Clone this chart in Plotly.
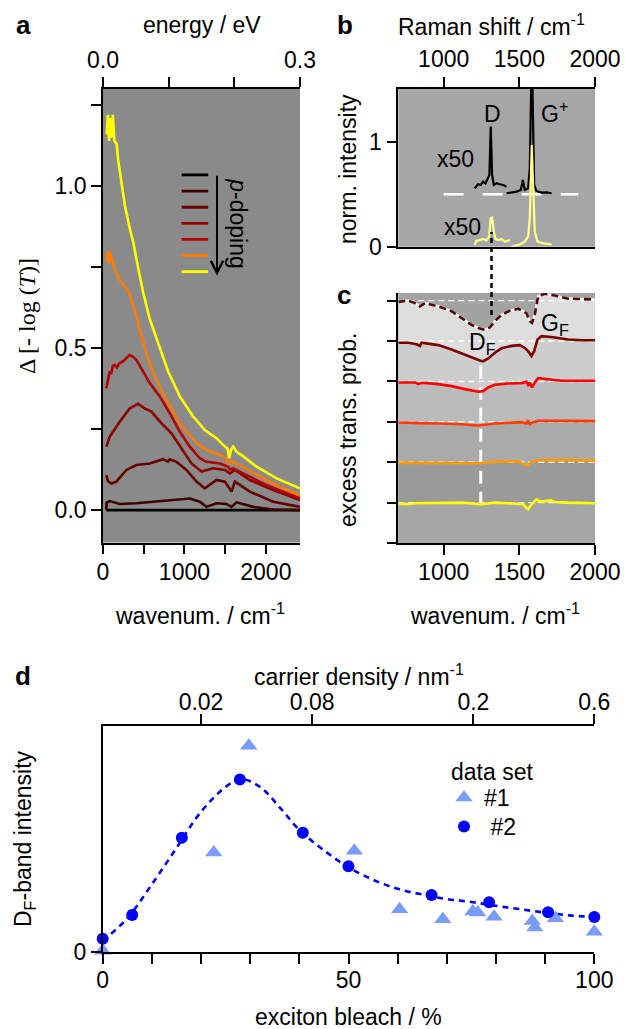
import plotly.graph_objects as go

W, H = 638, 1029
FONT = "Liberation Sans"
FS = 23

# ---------------- panel a data (wavenumber cm^-1, Delta[-log T]) ----------------
a_black_x = [41, 2419]
a_black_y = [0.0, 0.0]
a_c1_x = [41, 45, 82, 205, 410, 615, 861, 1066, 1189, 1271, 1394, 1517, 1579, 1640, 1845, 2091, 2419]
a_c1_y = [0.0, 0.023, 0.028, 0.019, 0.021, 0.026, 0.031, 0.036, 0.026, 0.010, 0.021, 0.019, 0.010, 0.024, 0.010, 0.002, 0.0]
a_c2_x = [41, 60, 103, 164, 287, 410, 574, 738, 800, 820, 902, 1025, 1148, 1250, 1394, 1497, 1579, 1620, 1804, 2091, 2419]
a_c2_y = [0.108, 0.090, 0.082, 0.088, 0.124, 0.139, 0.144, 0.157, 0.150, 0.157, 0.149, 0.124, 0.088, 0.067, 0.093, 0.088, 0.057, 0.088, 0.057, 0.026, 0.010]
a_c3_x = [41, 80, 123, 205, 328, 430, 512, 595, 718, 841, 963, 1087, 1210, 1353, 1497, 1558, 1620, 1804, 2091, 2419]
a_c3_y = [0.196, 0.225, 0.242, 0.273, 0.314, 0.328, 0.314, 0.304, 0.268, 0.237, 0.191, 0.144, 0.119, 0.129, 0.124, 0.113, 0.124, 0.093, 0.062, 0.031]
a_c4_x = [41, 60, 82, 100, 120, 144, 170, 205, 250, 290, 328, 360, 410, 492, 574, 697, 820, 943, 1066, 1189, 1271, 1435, 1538, 1560, 1599, 1763, 2009, 2419]
a_c4_y = [0.376, 0.400, 0.428, 0.420, 0.445, 0.448, 0.440, 0.454, 0.460, 0.470, 0.479, 0.475, 0.464, 0.428, 0.392, 0.351, 0.299, 0.242, 0.196, 0.160, 0.149, 0.144, 0.134, 0.125, 0.129, 0.108, 0.077, 0.036]
a_c5_x = [45, 60, 75, 86, 100, 120, 147, 209, 270, 331, 349, 413, 451, 533, 636, 779, 943, 1148, 1271, 1435, 1510, 1538, 1560, 1580, 1681, 1927, 2173, 2419]
a_c5_y = [0.770, 0.800, 0.760, 0.796, 0.780, 0.770, 0.740, 0.709, 0.690, 0.668, 0.649, 0.600, 0.557, 0.485, 0.412, 0.340, 0.268, 0.206, 0.186, 0.170, 0.160, 0.144, 0.150, 0.149, 0.139, 0.103, 0.072, 0.046]
a_c6_x = [45, 60, 75, 90, 105, 120, 140, 168, 188, 229, 270, 331, 372, 434, 495, 574, 677, 800, 943, 1107, 1250, 1394, 1497, 1530, 1550, 1570, 1599, 1640, 1701, 1886, 2132, 2419]
a_c6_y = [1.160, 1.220, 1.140, 1.210, 1.150, 1.220, 1.140, 1.130, 1.077, 1.000, 0.939, 0.867, 0.827, 0.745, 0.670, 0.590, 0.515, 0.428, 0.351, 0.289, 0.247, 0.222, 0.196, 0.190, 0.160, 0.185, 0.196, 0.180, 0.170, 0.134, 0.098, 0.067]
a_colors = ["#000000", "#3c0000", "#650000", "#8c0000", "#b30000", "#ff7a00", "#ffff00"]
a_xticks = [0, 1000, 2000]
a_xminor = [500, 1500]
a_yticks = [0, 0.5, 1.0]
a_ytext = ["0.0", "0.5", "1.0"]
a_yminor = [0.25, 0.75, 1.25]
a_eticks = [0.0, 0.3]
a_etext = ["0.0", "0.3"]
a_eminor = [0.1, 0.2]
a_legend_y = [1.035, 0.985, 0.935, 0.885, 0.836, 0.786, 0.736]
a_legend_x = [966, 1292]
a_arrow_x = 1400
a_arrow_y = [1.037, 0.724]

# ---------------- panel b data (Raman shift, norm. intensity) ----------------
b_blackD_x = [1205, 1227, 1245, 1260, 1276, 1289, 1302, 1311, 1320, 1331, 1349, 1371, 1393, 1415]
b_blackD_y = [0.556, 0.594, 0.587, 0.619, 0.603, 0.644, 0.683, 1.143, 0.683, 0.587, 0.603, 0.594, 0.587, 0.571]
b_blackG_x = [1415, 1448, 1481, 1510, 1523, 1536, 1558, 1569, 1578, 1587, 1598, 1613, 1646, 1680, 1713]
b_blackG_y = [0.508, 0.517, 0.524, 0.540, 0.635, 0.540, 0.556, 0.746, 1.500, 1.500, 0.587, 0.530, 0.514, 0.517, 0.508]
b_yelD_x = [1205, 1215, 1237, 1260, 1282, 1300, 1311, 1320, 1331, 1342, 1360, 1382, 1404, 1437]
b_yelD_y = [0.016, 0.054, 0.063, 0.073, 0.060, 0.095, 0.270, 0.276, 0.143, 0.073, 0.063, 0.073, 0.048, 0.063]
b_yelG_x = [1448, 1481, 1503, 1536, 1558, 1569, 1576, 1582, 1591, 1602, 1620, 1657, 1713]
b_yelG_y = [0.000, 0.010, 0.022, 0.048, 0.095, 0.270, 0.746, 0.968, 0.587, 0.143, 0.048, 0.032, 0.022]
b_ref_x = [1000, 1890]
b_ref_y = [0.5, 0.5]
b_xticks = [1000, 1500, 2000]
D_RAMAN_X = 1316

# ---------------- panel c data (wavenumber, offset excess transition prob.) ----------------
c1_x = [700, 766, 810, 964, 1118, 1250, 1338, 1426, 1525, 1558, 1580, 1613, 1646, 1712, 1734, 1822, 2000]
c1_y = [-0.025, -0.041, -0.017, -0.008, 0.0, -0.041, 0.0, -0.017, -0.041, -0.165, -0.041, 0.074, 0.025, 0.058, 0.017, 0.0, -0.017]
c2_x = [700, 810, 964, 1228, 1338, 1492, 1525, 1554, 1580, 1624, 1778, 2000]
c2_y = [-0.017, -0.017, -0.008, -0.025, 0.008, 0.025, -0.033, -0.083, 0.008, 0.050, 0.058, 0.033]
c3_x = [700, 810, 843, 964, 1118, 1228, 1261, 1338, 1514, 1547, 1558, 1569, 1591, 1624, 1778, 2000]
c3_y = [-0.017, -0.017, -0.033, -0.041, -0.058, -0.091, -0.074, -0.041, -0.008, -0.041, 0.041, -0.058, -0.008, 0.025, 0.025, 0.017]
c4_x = [700, 810, 832, 854, 964, 1052, 1140, 1228, 1261, 1294, 1338, 1426, 1514, 1547, 1558, 1569, 1584, 1602, 1624, 1668, 1778, 2000]
c4_y = [-0.025, -0.025, -0.066, -0.033, -0.066, -0.116, -0.190, -0.256, -0.240, -0.149, -0.083, -0.050, -0.041, -0.008, -0.083, -0.025, -0.149, -0.025, 0.083, 0.066, 0.017, 0.017]
c5_x = [700, 766, 821, 843, 854, 964, 1052, 1118, 1184, 1239, 1261, 1294, 1338, 1382, 1448, 1503, 1536, 1558, 1580, 1598, 1620, 1646, 1712, 1822, 1910, 2000]
c5_y = [-0.04, -0.04, -0.08, -0.12, -0.04, -0.10, -0.21, -0.31, -0.41, -0.48, -0.50, -0.43, -0.29, -0.18, -0.12, -0.10, -0.17, -0.25, -0.37, -0.25, 0.04, 0.12, 0.10, 0.04, 0.02, 0.02]
c6_x = [700, 766, 810, 843, 876, 964, 1052, 1118, 1184, 1239, 1272, 1305, 1338, 1382, 1437, 1492, 1525, 1547, 1569, 1584, 1602, 1624, 1668, 1734, 1822, 1910, 2000]
c6_y = [-0.03, 0.0, -0.06, -0.14, -0.06, -0.14, -0.26, -0.43, -0.60, -0.69, -0.72, -0.66, -0.51, -0.35, -0.25, -0.20, -0.26, -0.31, -0.51, -0.55, -0.35, 0.11, 0.17, 0.13, 0.05, 0.04, 0.03]
c_offsets = [1, 2, 3, 4, 5, 6]
c_colors = ["#ffff00", "#ff9900", "#ff3a00", "#ff0000", "#7f0000", "#4a0c0c"]
c_fills = ["#a6a6a6", "#9a9a9a", "#aaaaaa", "#bbbbbb", "#cdcdcd", "#dddddd"]
c_yticks = [0, 1, 2, 3, 4, 5, 6]
c_xticks = [1000, 1500, 2000]
DF_LINE_X = 1245
DF_LINE_Y = [0.95, 4.47]

# ---------------- panel d data (exciton bleach %, D_F band intensity) ----------------
d1_x = [0, 22.6, 29.7, 51.2, 60.4, 69.2, 75.3, 76.3, 79.6, 87.4, 87.9, 92.1, 100]
d1_y = [0.007, 0.440, 0.912, 0.448, 0.190, 0.146, 0.180, 0.176, 0.157, 0.138, 0.109, 0.150, 0.091]
d2_x = [0, 6.0, 16.1, 27.9, 40.7, 50.0, 66.9, 78.6, 90.6, 100]
d2_y = [0.060, 0.165, 0.506, 0.763, 0.528, 0.380, 0.253, 0.221, 0.177, 0.156]
dfit_x = [0, 5, 10, 15, 20, 25, 28, 32, 36, 40, 45, 50, 55, 60, 65, 70, 75, 80, 85, 90, 95, 100]
dfit_y = [0.05, 0.15, 0.30, 0.46, 0.62, 0.73, 0.765, 0.73, 0.64, 0.54, 0.45, 0.375, 0.32, 0.28, 0.255, 0.235, 0.222, 0.205, 0.19, 0.175, 0.163, 0.155]
d_xticks = [0, 50, 100]
d_xminor = [10, 20, 30, 40, 60, 70, 80, 90]
d_top_pos = [20.0, 42.6, 75.4, 100.0]
d_top_text = ["0.02", "0.08", "0.2", "0.6"]


def fx(px):
    return px / W


def fy(py):
    return 1 - py / H


fig = go.Figure()
nolg = dict(showlegend=False, hoverinfo="skip")

# panel a
a_xs = [a_black_x, a_c1_x, a_c2_x, a_c3_x, a_c4_x, a_c5_x, a_c6_x]
a_ys = [a_black_y, a_c1_y, a_c2_y, a_c3_y, a_c4_y, a_c5_y, a_c6_y]
for xs, ys, col in zip(a_xs, a_ys, a_colors):
    fig.add_trace(go.Scatter(x=xs, y=ys, mode="lines", line=dict(color=col, width=2.6),
                             xaxis="x", yaxis="y", **nolg))
for ly, col in zip(a_legend_y, a_colors):
    fig.add_trace(go.Scatter(x=a_legend_x, y=[ly, ly], mode="lines", line=dict(color=col, width=2.8),
                             xaxis="x", yaxis="y", **nolg))
fig.add_trace(go.Scatter(x=[a_eticks[0], a_eticks[-1]], y=[None, None], mode="lines",
                         xaxis="x2", yaxis="y", **nolg))

# panel b
fig.add_trace(go.Scatter(x=b_ref_x, y=b_ref_y, mode="lines", line=dict(color="white", width=2.5, dash="20px,19px"),
                         xaxis="x3", yaxis="y3", **nolg))
for xs, ys, col in [(b_blackD_x, b_blackD_y, "black"), (b_blackG_x, b_blackG_y, "black"),
                    (b_yelD_x, b_yelD_y, "#ffff8c"), (b_yelG_x, b_yelG_y, "#ffff8c")]:
    fig.add_trace(go.Scatter(x=xs, y=ys, mode="lines", line=dict(color=col, width=2.2),
                             xaxis="x3", yaxis="y3", **nolg))

# panel c fills
c_xs = [c1_x, c2_x, c3_x, c4_x, c5_x, c6_x]
c_ys = [c1_y, c2_y, c3_y, c4_y, c5_y, c6_y]
for i, (xs, ys, off, fc) in enumerate(zip(c_xs, c_ys, c_offsets, c_fills)):
    fig.add_trace(go.Scatter(x=xs, y=[v + off for v in ys], mode="lines", line=dict(width=0, color=fc),
                             fill="tozeroy" if i == 0 else "tonexty", fillcolor=fc,
                             xaxis="x4", yaxis="y4", **nolg))
for off in c_offsets:
    fig.add_trace(go.Scatter(x=[700, 2000], y=[off, off], mode="lines",
                             line=dict(color="white", width=1.4, dash="6px,4px"),
                             xaxis="x4", yaxis="y4", **nolg))
fig.add_trace(go.Scatter(x=[DF_LINE_X, DF_LINE_X], y=DF_LINE_Y, mode="lines",
                         line=dict(color="white", width=3, dash="13px,8px"),
                         xaxis="x4", yaxis="y4", **nolg))
for i, (xs, ys, off, col) in enumerate(zip(c_xs, c_ys, c_offsets, c_colors)):
    yy = [v + off for v in ys]
    if i == 5:
        fig.add_trace(go.Scatter(x=xs, y=yy, mode="lines", line=dict(color="#f4f4f4", width=2.6),
                                 xaxis="x4", yaxis="y4", **nolg))
        fig.add_trace(go.Scatter(x=xs, y=yy, mode="lines", line=dict(color=col, width=2.6, dash="7px,4px"),
                                 xaxis="x4", yaxis="y4", **nolg))
    else:
        fig.add_trace(go.Scatter(x=xs, y=yy, mode="lines", line=dict(color=col, width=2.6),
                                 xaxis="x4", yaxis="y4", **nolg))

# panel d
fig.add_trace(go.Scatter(x=dfit_x, y=dfit_y, mode="lines", line=dict(color="#0000ff", width=2.6, dash="6px,5px", shape="spline"),
                         xaxis="x5", yaxis="y5", cliponaxis=False, **nolg))
fig.add_trace(go.Scatter(x=d1_x, y=d1_y, mode="markers", name="#1", legend="legend",
                         marker=dict(symbol="triangle-up", size=15, color="#7b9cf6"),
                         xaxis="x5", yaxis="y5", cliponaxis=False, hoverinfo="skip"))
fig.add_trace(go.Scatter(x=d2_x, y=d2_y, mode="markers", name="\u00a0#2", legend="legend2",
                         marker=dict(symbol="circle", size=12, color="#0000ff"),
                         xaxis="x5", yaxis="y5", cliponaxis=False, hoverinfo="skip"))
fig.add_trace(go.Scatter(x=[0, 100], y=[None, None], mode="lines", xaxis="x6", yaxis="y5", **nolg))

tf = dict(family=FONT, size=FS, color="black")
ax_common = dict(showgrid=False, zeroline=False, showline=True, linecolor="black", linewidth=1.6,
                 ticks="outside", ticklen=10, tickwidth=1.6, tickcolor="black", tickfont=tf,
                 automargin=False)


def minor(vals):
    return dict(tickvals=vals, ticks="outside", ticklen=10, tickwidth=1.6, tickcolor="black", showgrid=False)


leg_common = dict(xanchor="left", yanchor="top", bgcolor="rgba(0,0,0,0)",
                  font=dict(family=FONT, size=FS, color="black"))

fig.update_layout(
    width=W, height=H, margin=dict(l=0, r=0, t=0, b=0, autoexpand=False),
    paper_bgcolor="white", plot_bgcolor="rgba(0,0,0,0)",
    font=dict(family=FONT, size=FS, color="black"),
    xaxis=dict(domain=[fx(103), fx(300)], range=[0, 2419.6], anchor="y", side="bottom",
               tickvals=a_xticks, minor=minor(a_xminor), ticklabelstandoff=-2, **ax_common),
    xaxis2=dict(overlaying="x", side="top", anchor="y", range=[0, 0.3],
                tickvals=a_eticks, ticktext=a_etext, minor=minor(a_eminor), ticklabelstandoff=0, **ax_common),
    yaxis=dict(domain=[fy(542.5), fy(89)], range=[-0.1, 1.3], anchor="x",
               tickvals=a_yticks, ticktext=a_ytext, minor=minor(a_yminor), **ax_common),
    xaxis3=dict(domain=[fx(398.3), fx(595)], range=[700, 2000], anchor="y3", side="top", mirror=True,
                tickvals=b_xticks, ticklabelstandoff=1, **ax_common),
    yaxis3=dict(domain=[fy(246.7), fy(89)], range=[0, 1.5], anchor="x3",
                tickvals=[0, 1], ticktext=["0", "1"], **ax_common),
    xaxis4=dict(domain=[fx(398.3), fx(595)], range=[700, 2000], anchor="y4", side="bottom",
                tickvals=c_xticks, ticklabelstandoff=-2, **ax_common),
    yaxis4=dict(domain=[fy(543), fy(293)], range=[0, 6.19], anchor="x4",
                tickvals=c_yticks, showticklabels=False, **ax_common),
    xaxis5=dict(domain=[fx(102.7), fx(594.3)], range=[0, 100], anchor="y5", side="bottom",
                tickvals=d_xticks, minor=minor(d_xminor), ticklabelstandoff=-4, **ax_common),
    xaxis6=dict(overlaying="x5", side="top", anchor="y5", range=[0, 100],
                tickvals=d_top_pos, ticktext=d_top_text, ticklabelstandoff=-5, **ax_common),
    yaxis5=dict(domain=[fy(952.3), fy(725.7)], range=[0, 1], anchor="x5",
                tickvals=[0], ticktext=["0"], **ax_common),
    legend=dict(x=fx(444), y=fy(776), **leg_common),
    legend2=dict(x=fx(444), y=fy(805), **leg_common),
)

shapes = [
    dict(type="rect", xref="x domain", yref="y domain", x0=0, x1=1, y0=0, y1=1,
         fillcolor="#8a8a8a", line=dict(width=0), layer="below"),
    dict(type="rect", xref="x3 domain", yref="y3 domain", x0=0, x1=1, y0=0, y1=1,
         fillcolor="#a6a6a6", line=dict(width=0), layer="below"),
    dict(type="rect", xref="x4 domain", yref="y4 domain", x0=0, x1=1, y0=0, y1=1,
         fillcolor="#a3a3a3", line=dict(width=0), layer="below"),
    dict(type="line", xref="x3", yref="paper", x0=D_RAMAN_X, x1=D_RAMAN_X, y0=fy(315), y1=fy(232),
         line=dict(color="black", width=2.5, dash="5px,4px")),
]
fig.update_layout(shapes=shapes)

ann = []


def txt(text, x, y, size=FS, bold=False, angle=0, family=FONT, xanchor="center", yanchor="middle",
        xref="paper", yref="paper"):
    if bold:
        text = "<b>" + text + "</b>"
    ann.append(dict(text=text, x=x, y=y, xref=xref, yref=yref, showarrow=False, textangle=angle,
                    xanchor=xanchor, yanchor=yanchor, font=dict(family=family, size=size, color="black")))


# panel letters
txt("a", fx(23), fy(25), size=26, bold=True)
txt("b", fx(345), fy(25), size=26, bold=True)
txt("c", fx(344), fy(295), size=26, bold=True)
txt("d", fx(23), fy(676), size=26, bold=True)
# axis titles
txt("energy / eV", fx(202), fy(25))
txt("Raman shift / cm<sup>-1</sup>", fx(491), fy(25))
txt("wavenum. / cm<sup>-1</sup>", fx(200), fy(614))
txt("wavenum. / cm<sup>-1</sup>", fx(495), fy(614))
txt("Δ [- log (<i>T</i>)]", fx(27), fy(316), size=24, angle=-90, family="Liberation Serif")
txt("norm. intensity", fx(348), fy(169), angle=-90)
txt("excess trans. prob.", fx(348), fy(430), angle=-90)
txt("carrier density / nm<sup>-1</sup>", fx(359), fy(675))
txt("exciton bleach / %", fx(348), fy(1017))
txt("D<sub>F</sub>-band intensity", fx(24), fy(839), angle=-90)
txt("data set", fx(491.7), fy(771.7))
# in-plot labels
txt("<i>p</i>-doping", 1656, 0.883, angle=90, xref="x", yref="y")
txt("D", 1325, 1.264, xref="x3", yref="y3")
txt("G<sup>+</sup>", 1629, 1.28, xanchor="left", xref="x3", yref="y3")
txt("x50", 1080, 0.834, xref="x3", yref="y3")
txt("x50", 1122, 0.183, xref="x3", yref="y3")
txt("D<sub>F</sub>", 1156, 4.93, xanchor="left", xref="x4", yref="y4")
txt("G<sub>F</sub>", 1629, 5.40, xanchor="left", xref="x4", yref="y4")

ann.append(dict(x=a_arrow_x, y=a_arrow_y[1], ax=a_arrow_x, ay=a_arrow_y[0], xref="x", yref="y",
                axref="x", ayref="y", showarrow=True, arrowhead=5, arrowsize=1.2, arrowwidth=2,
                arrowcolor="black", text=""))
fig.update_layout(annotations=ann)

fig.write_html("out.html", config={"displayModeBar": False},
               post_script="document.body.style.margin='0px';document.body.style.padding='0px';"
                           "document.body.style.overflow='hidden';")
